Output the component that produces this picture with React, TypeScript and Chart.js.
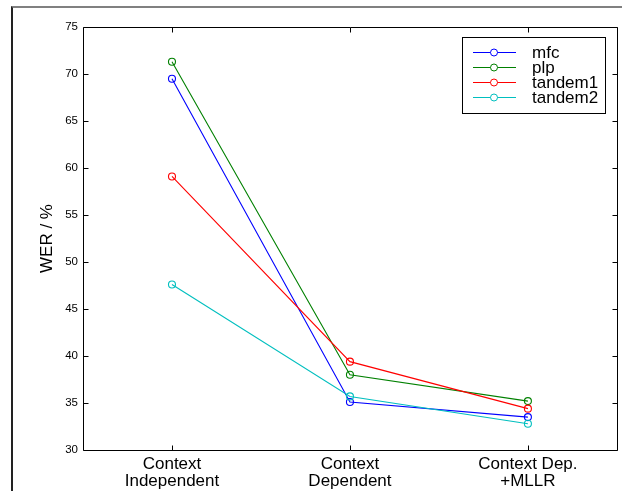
import React, { useEffect, useRef } from "react";
import { Chart, registerables } from "chart.js";

Chart.register(...registerables);

const categories: string[][] = [
  ["Context", "Independent"],
  ["Context", "Dependent"],
  ["Context Dep.", "+MLLR"],
];
const mfc = [69.5, 35.1, 33.5];
const plp = [71.3, 38.0, 35.2];
const tandem1 = [59.1, 39.4, 34.4];
const tandem2 = [47.6, 35.7, 32.8];
const seriesNames = ["mfc", "plp", "tandem1", "tandem2"];
const seriesColors = ["#0000ff", "#008000", "#ff0000", "#00bfbf"];
const yTicks = [30, 35, 40, 45, 50, 55, 60, 65, 70, 75];

const FONT = "'Liberation Sans', Arial, Helvetica, sans-serif";

const framePlugin = {
  id: "matlabFrame",
  afterDraw(chart: any) {
    const ctx = chart.ctx as CanvasRenderingContext2D;
    const { left, right, top, bottom } = chart.chartArea;
    const xs = chart.scales.x;
    const ys = chart.scales.y;
    ctx.save();
    ctx.strokeStyle = "#000";
    ctx.lineWidth = 1;
    const L = Math.round(left) + 0.5;
    const R = Math.round(right) + 0.5;
    const T = Math.round(top) + 0.5;
    const B = Math.round(bottom) + 0.5;
    ctx.beginPath();
    ctx.rect(L, T, R - L, B - T);
    ctx.stroke();
    const tl = 5;
    ctx.beginPath();
    yTicks.forEach((v) => {
      const y = Math.round(ys.getPixelForValue(v)) + 0.5;
      ctx.moveTo(L, y);
      ctx.lineTo(L + tl, y);
      ctx.moveTo(R, y);
      ctx.lineTo(R - tl, y);
    });
    categories.forEach((_, i) => {
      const x = Math.round(xs.getPixelForValue(i + 1)) + 0.5;
      ctx.moveTo(x, B);
      ctx.lineTo(x, B - tl);
      ctx.moveTo(x, T);
      ctx.lineTo(x, T + tl);
    });
    ctx.stroke();

    // legend box
    const lx = 462.5, ly = 37.5, lw = 143, lh = 76;
    ctx.fillStyle = "#fff";
    ctx.fillRect(lx, ly, lw, lh);
    ctx.strokeRect(lx, ly, lw, lh);
    ctx.font = `17px ${FONT}`;
    ctx.textBaseline = "middle";
    ctx.textAlign = "left";
    chart.data.datasets.forEach((ds: any, i: number) => {
      const y = 52.5 + i * 15;
      ctx.strokeStyle = ds.borderColor;
      ctx.beginPath();
      ctx.moveTo(473, y);
      ctx.lineTo(516, y);
      ctx.stroke();
      ctx.beginPath();
      ctx.arc(494, y, 3.5, 0, Math.PI * 2);
      ctx.fillStyle = "#fff";
      ctx.fill();
      ctx.stroke();
      ctx.fillStyle = "#000";
      ctx.fillText(ds.label, 532, y + 0.5);
    });
    ctx.restore();
  },
};

export default function App() {
  const ref = useRef<HTMLCanvasElement | null>(null);
  useEffect(() => {
    if (!ref.current) return;
    const data = [mfc, plp, tandem1, tandem2];
    const chart = new Chart(ref.current, {
      type: "line",
      data: {
        datasets: data.map((vals, i) => ({
          label: seriesNames[i],
          data: vals.map((v, j) => ({ x: j + 1, y: v })),
          borderColor: seriesColors[i],
          backgroundColor: "rgba(0,0,0,0)",
          borderWidth: 1.1,
          pointRadius: 3.5,
          pointBorderWidth: 1.1,
          pointBackgroundColor: "rgba(0,0,0,0)",
          pointBorderColor: seriesColors[i],
          tension: 0,
          fill: false,
          order: 4 - i,
        })),
      },
      options: {
        animation: false,
        responsive: false,
        devicePixelRatio: 1,
        layout: { padding: { top: 27, right: 4, left: 0, bottom: 0 } },
        plugins: {
          legend: { display: false },
          tooltip: { enabled: false },
        },
        scales: {
          x: {
            type: "linear",
            min: 0.5,
            max: 3.5,
            afterBuildTicks: (scale: any) => {
              scale.ticks = categories.map((_, i) => ({ value: i + 1 }));
            },
            afterFit: (scale: any) => {
              scale.height = 41;
            },
            grid: { display: false, drawTicks: false },
            border: { display: false },
            ticks: {
              autoSkip: false,
              maxRotation: 0,
              padding: 6,
              color: "#000",
              font: { family: FONT, size: 17, lineHeight: 1.0 },
              callback: (v: any) => categories[Number(v) - 1] ?? "",
            },
          },
          y: {
            type: "linear",
            min: 30,
            max: 75,
            afterBuildTicks: (scale: any) => {
              scale.ticks = yTicks.map((v) => ({ value: v }));
            },
            afterFit: (scale: any) => {
              scale.width = 83;
            },
            grid: { display: false, drawTicks: false },
            border: { display: false },
            ticks: {
              padding: 5,
              color: "#000",
              font: { family: FONT, size: 11.5 },
            },
            title: {
              display: true,
              text: "WER / %",
              color: "#000",
              font: { family: FONT, size: 17, lineHeight: 1.2 },
              padding: { top: 37, bottom: 0 },
            },
          },
        },
      },
      plugins: [framePlugin],
    } as any);
    return () => chart.destroy();
  }, []);
  return (
    <div style={{ position: "absolute", left: 0, top: 0, width: 622, height: 491, background: "#fff", overflow: "hidden" }}>
      <div
        style={{
          position: "absolute",
          left: 11,
          top: 6,
          width: 700,
          height: 600,
          borderTop: "2px solid #808080",
          borderLeft: "2px solid #222",
        }}
      />
      <canvas ref={ref} width={622} height={491} style={{ position: "absolute", left: 0, top: 0 }} />
    </div>
  );
}
